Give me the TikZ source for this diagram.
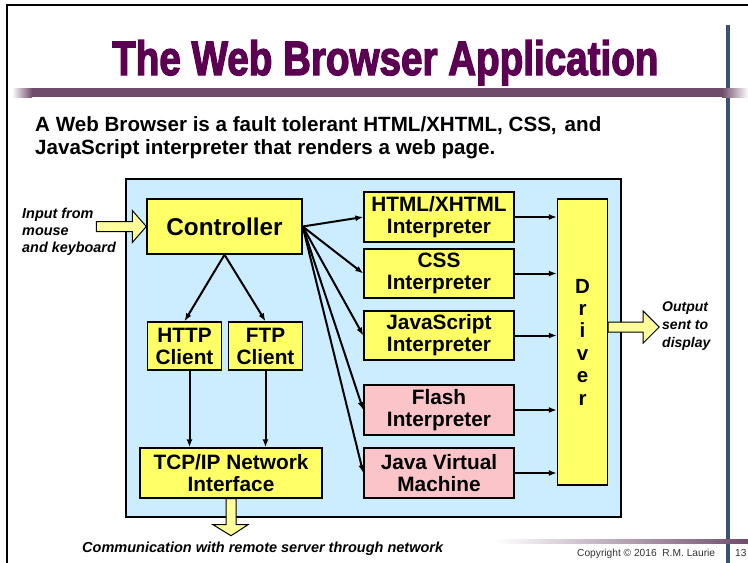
\documentclass[tikz,border=0pt]{standalone}
\usepackage{fontspec}
\setmainfont{Liberation Sans}
\newfontfamily\titlefont[FakeBold=3]{Liberation Sans}
\usetikzlibrary{arrows.meta,calc}
\definecolor{titlepurple}{RGB}{92,0,82}
\definecolor{barpurple}{RGB}{112,76,108}
\definecolor{tanbar}{RGB}{220,190,160}
\definecolor{vline}{RGB}{58,82,110}
\definecolor{bgblue}{RGB}{204,236,255}
\definecolor{boxyellow}{RGB}{255,255,102}
\definecolor{boxpink}{RGB}{250,196,200}
\definecolor{arrowyellow}{RGB}{255,255,153}
\begin{document}
\begin{tikzpicture}[x=1pt,y=-1pt,
  box/.style={draw=black, line width=1.4pt, fill=boxyellow, inner sep=0pt, align=center,
    font=\bfseries\fontsize{20.8}{22}\selectfont},
  pinkbox/.style={box, fill=boxpink},
  conn/.style={line width=2pt, -{Latex[length=8pt,width=6pt]}},
  blockarrow/.style={draw=black, line width=1pt, fill=arrowyellow, line join=miter},
  lbl/.style={font=\bfseries\itshape\fontsize{14.4}{17}\selectfont, align=left, inner sep=0pt}]
\useasboundingbox (0,0) rectangle (748,563);
\fill[white] (0,0) rectangle (748,563);
% frame
\draw[line width=2pt] (748,5) -- (7,5) -- (7,563);
\draw[line width=3.5pt, vline] (728,25) -- (728,563);
% title
\node[anchor=base west, inner sep=0pt, text=titlepurple] (title) at (112,75)
  {\resizebox{546pt}{35pt}{\titlefont\bfseries The Web Browser Application}};
% title bar
\shade[left color=white, right color=barpurple] (12,88) rectangle (32,97);
\fill[barpurple] (32,88) rectangle (722,97);
\shade[left color=barpurple, right color=white] (722,88) rectangle (748,97);
% paragraph
\node[anchor=north west, inner sep=0pt, align=left, font=\bfseries\fontsize{20.6}{23}\selectfont] (para) at (35,116)
  {A Web Browser is a fault tolerant HTML/XHTML, CSS,\hspace{8pt}and\\JavaScript interpreter that renders a web page.};
% browser container
\node[draw=black, line width=2pt, fill=bgblue, minimum width=495pt, minimum height=338pt, inner sep=0pt] (browser) at (373.5,348) {};
% nodes
\node[box, minimum width=155pt, minimum height=55pt, font=\bfseries\fontsize{24.3}{25}\selectfont] (ctrl) at (224.5,226.5) {Controller};
\node[box, minimum width=74pt, minimum height=48pt] (http) at (184.5,346) {HTTP\\Client};
\node[box, minimum width=74pt, minimum height=48pt] (ftp) at (265.5,346) {FTP\\Client};
\node[box, minimum width=182pt, minimum height=50pt] (tcp) at (231,473) {TCP/IP Network\\Interface};
\node[box, minimum width=150pt, minimum height=50pt] (html) at (439,217) {HTML/XHTML\\Interpreter};
\node[box, minimum width=150pt, minimum height=49pt] (css) at (439,273.5) {CSS\\Interpreter};
\node[box, minimum width=150pt, minimum height=49pt] (js) at (439,335.5) {JavaScript\\Interpreter};
\node[pinkbox, minimum width=150pt, minimum height=50pt] (flash) at (439,410) {Flash\\Interpreter};
\node[pinkbox, minimum width=150pt, minimum height=50pt] (jvm) at (439,473) {Java Virtual\\Machine};
\node[box, minimum width=50pt, minimum height=286pt, font=\bfseries\fontsize{20.5}{22.4}\selectfont] (driver) at (582.5,342) {D\\r\\i\\v\\e\\r};
% connectors
\draw[conn] (ctrl.south) -- (http.north);
\draw[conn] (ctrl.south) -- (ftp.north);
\draw[conn] ([xshift=5pt]http.south) -- ([xshift=5pt]http.south |- tcp.north);
\draw[conn] (ftp.south) -- (ftp.south |- tcp.north);
\foreach \n in {html,css,js,flash,jvm}{
  \draw[conn] (ctrl.east) -- (\n.west);
  \draw[conn] (\n.east) -- (\n.east -| driver.west);
}
% block arrows
\draw[blockarrow] (ctrl.west) -- ++(-14,-16) -- ++(0,11) -- ++(-36,0) -- ++(0,10) -- ++(36,0) -- ++(0,11) -- cycle;
\coordinate (outs) at ($(driver.east)+(0,-15.5)$);
\draw[blockarrow] (outs) ++(0,-4.5) -- ++(35,0) -- ++(0,-11) -- ++(16,16) -- ++(-16,16) -- ++(0,-11) -- ++(-35,0) -- cycle;
\draw[blockarrow] (tcp.south) ++(-5,0) -- ++(0,26) -- ++(-13,0) -- ++(18,11) -- ++(17,-11) -- ++(-12,0) -- ++(0,-26) -- cycle;
% labels
\node[lbl, anchor=north west] (inlbl) at (22,207.5) {Input from\\mouse\\and keyboard};
\node[lbl, anchor=north west, font=\bfseries\itshape\fontsize{14}{18}\selectfont] (outlbl) at (662,301.5) {Output\\sent to\\display};
\node[lbl, anchor=base west, font=\bfseries\itshape\fontsize{14.5}{17}\selectfont] (commlbl) at (82,552) {Communication with remote server through network};
% bottom bar
\shade[left color=white, middle color=tanbar, right color=barpurple] (495,539) rectangle (748,543.5);
\node[anchor=base west, inner sep=0pt, text=black!80, font=\fontsize{10.2}{12}\selectfont] (copy) at (577,556) {Copyright \textcopyright{} 2016\ \ R.M. Laurie};
\node[anchor=base west, inner sep=0pt, text=black!80, font=\fontsize{10.2}{12}\selectfont] (pagenum) at (735,556) {13};
\end{tikzpicture}
\end{document}
